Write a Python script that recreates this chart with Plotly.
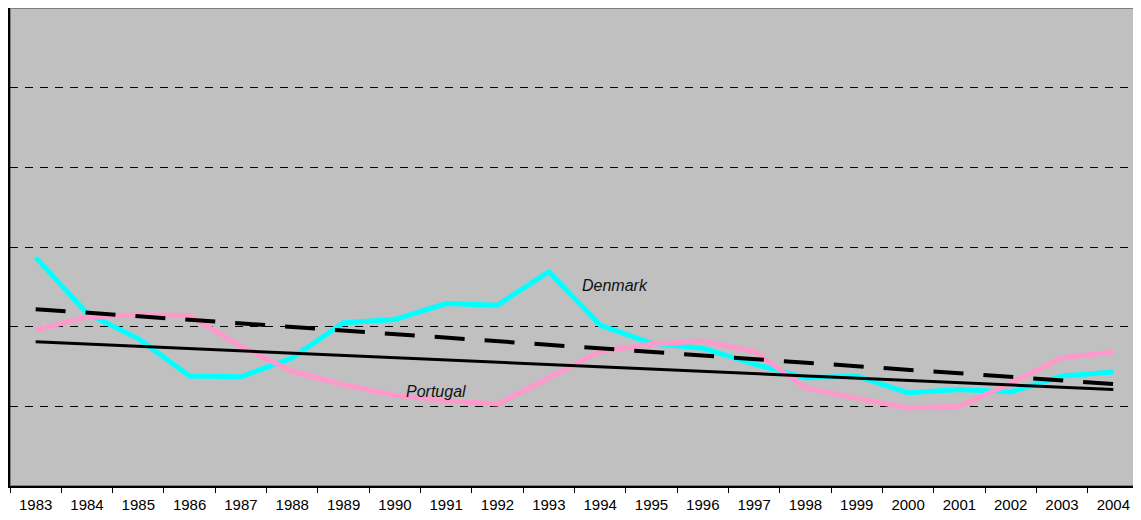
import plotly.graph_objects as go

# Años (eje de categorías)
years = [str(y) for y in range(1983, 2005)]

# Valores (unidades arbitrarias, líneas de rejilla cada 10)
denmark = [28.7, 21.7, 18.5, 13.8, 13.7, 16.1, 20.5, 20.9, 22.9, 22.7, 26.9,
           20.2, 17.9, 17.3, 15.3, 13.6, 13.8, 11.7, 12.1, 11.8, 13.8, 14.3]
portugal = [19.6, 21.2, 21.5, 21.4, 17.5, 14.4, 12.7, 11.4, 10.7, 10.3, 13.6,
            16.9, 17.8, 18.2, 16.9, 12.3, 11.0, 9.8, 10.0, 12.9, 16.1, 16.8]

# Líneas de tendencia (extremos)
trend_years = ["1983", "2004"]
denmark_trend = [22.2, 12.8]
portugal_trend = [18.1, 12.1]

fig = go.Figure()

fig.add_trace(go.Scatter(x=years, y=denmark, mode="lines", name="Denmark",
                         line=dict(color="#00FFFF", width=5)))
fig.add_trace(go.Scatter(x=years, y=portugal, mode="lines", name="Portugal",
                         line=dict(color="#FF99CC", width=5)))
fig.add_trace(go.Scatter(x=trend_years, y=denmark_trend, mode="lines",
                         line=dict(color="black", width=4, dash="30px,20px")))
fig.add_trace(go.Scatter(x=trend_years, y=portugal_trend, mode="lines",
                         line=dict(color="black", width=3)))

# Etiquetas (x en índice de categoría)
fig.add_annotation(x=10.6, y=25.2, text="<i>Denmark</i>", showarrow=False,
                   xanchor="left",
                   font=dict(family="Liberation Sans, Arial", size=16, color="#111111"))
fig.add_annotation(x=7.8, y=11.8, text="<i>Portugal</i>", showarrow=False,
                   xanchor="center",
                   font=dict(family="Liberation Sans, Arial", size=16, color="#111111"))

# Borde gris del área de trazado
fig.add_shape(type="rect", xref="x domain", yref="y domain", x0=0, x1=1, y0=0, y1=1,
              line=dict(color="#808080", width=2), layer="below")

# la página tiene 8px de margen propio en el navegador
fig.update_layout(
    width=1133, height=512,
    margin=dict(l=2, r=2, t=0, b=34),
    paper_bgcolor="white",
    plot_bgcolor="#C0C0C0",
    showlegend=False,
    font=dict(family="Liberation Sans, Arial", size=15, color="black"),
)

fig.update_xaxes(
    type="category", range=[-0.5, 21.5], tickson="boundaries", ticks="outside",
    ticklen=5, tickcolor="black", showline=True, linecolor="black", linewidth=2,
    showgrid=False, zeroline=False, tickfont=dict(size=15), tickangle=0,
    ticklabelstandoff=4, automargin=False,
)
fig.update_yaxes(
    range=[0, 60], dtick=10, showticklabels=False, ticks="outside", ticklen=3,
    tickcolor="black", showline=True, linecolor="black", linewidth=2,
    showgrid=True, gridcolor="black", gridwidth=1, griddash="8px,7px",
    zeroline=False, automargin=False,
)

fig.write_html("out.html")
